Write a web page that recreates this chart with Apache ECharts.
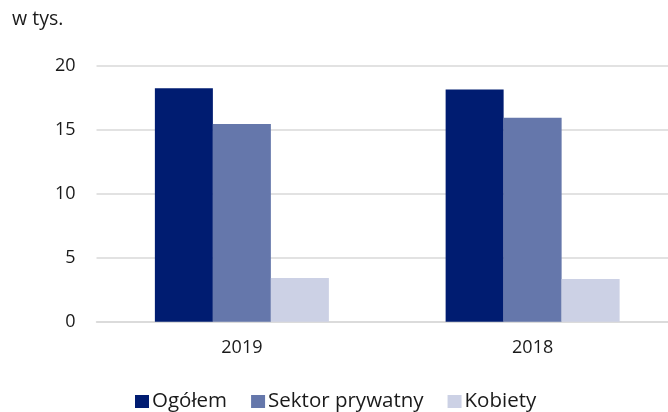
<!DOCTYPE html>
<html>
<head>
<meta charset="utf-8">
<script src="https://cdn.jsdelivr.net/npm/echarts@6/dist/echarts.min.js"></script>
<style>html,body{margin:0;padding:0;background:#fff}#c{width:668px;height:412px}</style>
</head>
<body>
<div id="c"></div>
<script>
const categories = ['2019', '2018'];
const seriesNames = ['Ogółem', 'Sektor prywatny', 'Kobiety'];
const ogolem = [18.25, 18.17];
const sektorPrywatny = [15.46, 15.95];
const kobiety = [3.42, 3.34];
const yTicks = [0, 5, 10, 15, 20];
const colors = ['#001c71', '#6577ab', '#ccd1e5'];
const font = "'Open Sans', 'Noto Sans', sans-serif";

const chart = echarts.init(document.getElementById('c'), null, {renderer: 'canvas'});
const values = [ogolem, sektorPrywatny, kobiety];
chart.setOption({
  animation: false,
  textStyle: {fontFamily: font},
  title: {text: 'w tys.', left: 7, top: 4, textStyle: {fontSize: 19.5, fontWeight: 'normal', color: '#1a1a1a', fontFamily: font}},
  grid: {left: 96.5, width: 581.5, top: 66, height: 255.7, containLabel: false, outerBoundsMode: 'none'},
  legend: {
    top: 386, left: 130, itemWidth: 14, itemHeight: 13, itemGap: 24,
    icon: 'rect',
    textStyle: {fontSize: 20.5, color: '#1a1a1a', fontFamily: font, padding: [0, 0, 0, -2]},
    data: seriesNames
  },
  xAxis: {
    type: 'category', data: categories,
    axisLine: {lineStyle: {color: '#d9d9d9', width: 1.5}},
    axisTick: {show: false},
    axisLabel: {fontSize: 18, color: '#1a1a1a', margin: 17}
  },
  yAxis: {
    type: 'value', min: yTicks[0], max: yTicks[yTicks.length - 1], interval: 5,
    axisLine: {show: false}, axisTick: {show: false},
    axisLabel: {fontSize: 18, color: '#1a1a1a', margin: 21},
    splitLine: {lineStyle: {color: '#d9d9d9', width: 1.5}}
  },
  series: seriesNames.map((n, i) => ({
    name: n, type: 'bar', data: values[i], barWidth: 58, barGap: '0%',
    itemStyle: {color: colors[i]}
  }))
});
</script>
</body>
</html>
